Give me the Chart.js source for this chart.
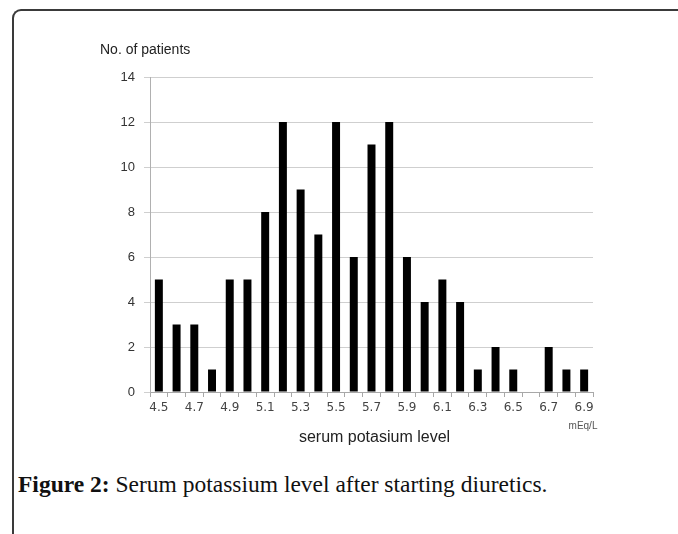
<!DOCTYPE html>
<html>
<head>
<meta charset="utf-8">
<script src="https://cdn.jsdelivr.net/npm/chart.js@4"></script>
<style>
  body { margin: 0; background: #fff; width: 678px; height: 534px; overflow: hidden; position: relative; }
  #frame { position: absolute; left: 12px; top: 9px; width: 700px; height: 560px;
           border-left: 2px solid #3a3a3a; border-top: 2px solid #3a3a3a; border-top-left-radius: 9px; }
  #wrap { position: absolute; left: 0; top: 0; width: 678px; height: 460px; }
  #caption { position: absolute; left: 18px; top: 470px; font-family: "Liberation Serif", serif;
             font-size: 23.5px; line-height: 28px; color: #111; white-space: nowrap; }
  #caption b { font-weight: bold; }
</style>
</head>
<body>
<div id="frame"></div>
<div id="wrap"><canvas id="barChart" width="678" height="460"></canvas></div>
<div id="caption"><b>Figure 2:</b> Serum potassium level after starting diuretics.</div>
<script>
const levels = ['4.5','4.6','4.7','4.8','4.9','5.0','5.1','5.2','5.3','5.4','5.5','5.6','5.7',
                '5.8','5.9','6.0','6.1','6.2','6.3','6.4','6.5','6.6','6.7','6.8','6.9']
const patients = [5,3,3,1,5,5,8,12,9,7,12,6,11,12,6,4,5,4,1,2,1,0,2,1,1]
const y_ticks = [0,2,4,6,8,10,12,14]

// axis texts drawn around the plot area
const axisText = {
    id: 'axisText',
    afterDraw(chart) {
        const c = chart.ctx
        const a = chart.chartArea
        c.save()
        c.fillStyle = '#222'
        c.font = '14px "Liberation Sans", Arial, sans-serif'
        c.textAlign = 'left'
        c.textBaseline = 'middle'
        c.fillText('No. of patients', 100, 50)
        c.font = '16px "Liberation Sans", Arial, sans-serif'
        c.textAlign = 'center'
        c.fillText('serum potasium level', (a.left + a.right) / 2 + 3, 438)
        c.fillStyle = '#555'
        c.font = '10px "Liberation Sans", Arial, sans-serif'
        c.fillText('mEq/L', a.right - 10, 426)
        c.restore()
    }
}

const ctxBar = document.getElementById('barChart').getContext('2d')
const barr = new Chart(ctxBar, {
    type: 'bar',
    data: {
        labels: levels,
        datasets: [{
            data: patients,
            backgroundColor: '#000',
            barPercentage: 0.45,
            categoryPercentage: 1
        }]
    },
    options: {
        responsive: false,
        animation: false,
        layout: { padding: { left: 0, right: 85, top: 77, bottom: 0 } },
        plugins: { legend: { display: false }, tooltip: { enabled: false } },
        scales: {
            x: {
                afterFit(scale) { scale.height = 68 },
                grid: { display: true, offset: true, drawOnChartArea: false, tickLength: 5, color: '#a8a8a8' },
                border: { color: '#a8a8a8' },
                ticks: {
                    autoSkip: false, maxRotation: 0, color: '#444', padding: 4,
                    font: { size: 12, family: '"DejaVu Sans", sans-serif' },
                    callback: (v, i) => (i % 2 === 0 ? levels[i] : '')
                }
            },
            y: {
                min: 0, max: 14,
                afterFit(scale) { scale.width = 150 },
                afterBuildTicks(scale) { scale.ticks = y_ticks.map(v => ({ value: v })) },
                grid: { color: '#cfcfcf', tickLength: 6 },
                border: { color: '#b0b0b0' },
                ticks: { color: '#333', padding: 9, font: { size: 13, family: '"Liberation Sans", Arial, sans-serif' } }
            }
        }
    },
    plugins: [axisText]
})
</script>
</body>
</html>
